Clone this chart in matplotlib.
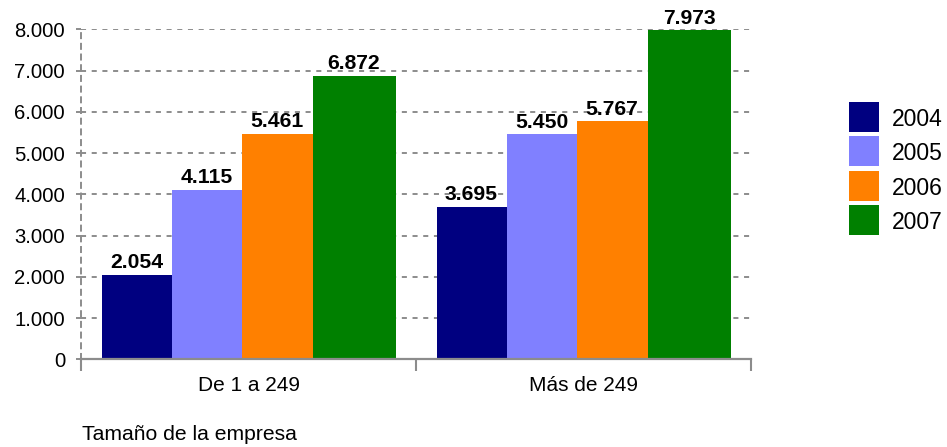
import matplotlib
matplotlib.use("Agg")
import matplotlib.pyplot as plt
import numpy as np
from matplotlib.ticker import FuncFormatter, FixedLocator
from matplotlib.patches import Rectangle

plt.rcParams['font.family'] = ['Liberation Sans', 'DejaVu Sans']

categories = ["De 1 a 249", "Más de 249"]
years = ["2004", "2005", "2006", "2007"]
v2004 = [2054, 3695]
v2005 = [4115, 5450]
v2006 = [5461, 5767]
v2007 = [6872, 7973]
series = [v2004, v2005, v2006, v2007]
colors = ["#000080", "#8080ff", "#ff8000", "#008000"]
yticks = [0, 1000, 2000, 3000, 4000, 5000, 6000, 7000, 8000]
xlabel = "Tamaño de la empresa"

W, H = 947, 447
fig = plt.figure(figsize=(W / 100, H / 100), dpi=100)
ax_l, ax_r, ax_b, ax_t = 81, 751, 359.3, 29.3
ax = fig.add_axes([ax_l / W, 1 - ax_b / H, (ax_r - ax_l) / W, (ax_b - ax_t) / H])

cat_px = (ax_r - ax_l) / len(categories)
bar_px = [70, 70, 71, 83]
left_margin_px = 20.5
widths = [b / cat_px for b in bar_px]
x = np.arange(len(categories))
grey = "#8c8c8c"
dash = (0, (2.6, 2.9))

offs = []
acc = left_margin_px / cat_px - 0.5
for w in widths:
    offs.append(acc)
    acc += w

for i, (vals, col) in enumerate(zip(series, colors)):
    bars = ax.bar(x + offs[i], vals, width=widths[i], align='edge', color=col,
                  label=years[i], zorder=3, linewidth=0)
    for b, v in zip(bars, vals):
        ax.annotate(f"{v:,}".replace(",", "."),
                    (b.get_x() + b.get_width() / 2, v),
                    xytext=(0, 2), textcoords='offset points',
                    ha='center', va='bottom', fontsize=15.2, fontweight='bold',
                    color='black', zorder=5, annotation_clip=False)

ax.set_xlim(-0.5, len(categories) - 0.5)
ax.set_ylim(0, 8000)
ax.set_yticks(yticks)
ax.yaxis.set_major_formatter(FuncFormatter(lambda v, p: f"{int(v):,}".replace(",", ".")))
ax.set_xticks(x)
ax.set_xticklabels(categories)
ax.xaxis.set_minor_locator(FixedLocator(np.arange(len(categories) + 1) - 0.5))
ax.tick_params(axis='x', which='major', length=0, labelsize=15, pad=12)
ax.tick_params(axis='x', which='minor', length=8.5, width=1.5, color=grey, direction='out')
ax.tick_params(axis='y', length=3.5, width=1.4, color=grey, labelsize=14.6, pad=8)

ax.yaxis.grid(True, color=grey, linewidth=1.4, linestyle=dash, zorder=1)
ax.set_axisbelow(True)
for s in ['top', 'right']:
    ax.spines[s].set_visible(False)
ax.spines['left'].set_color(grey)
ax.spines['left'].set_linewidth(1.4)
ax.spines['left'].set_linestyle(dash)
ax.spines['bottom'].set_color(grey)
ax.spines['bottom'].set_linewidth(1.6)
ax.spines['bottom'].set_zorder(4)

fig.text(82 / W, 1 - 440 / H, xlabel, fontsize=15.2, ha='left', va='baseline')

# legend drawn in figure pixel coordinates
leg_x, leg_y0, leg_sz, leg_step = 849, 101.7, 30, 34.5
for i, (yr, col) in enumerate(zip(years, colors)):
    top = leg_y0 + i * leg_step
    fig.patches.append(Rectangle((leg_x / W, 1 - (top + leg_sz) / H), leg_sz / W, leg_sz / H,
                                 transform=fig.transFigure, facecolor=col, edgecolor='none'))
    fig.text(892 / W, 1 - (top + leg_sz / 2) / H, yr, fontsize=16.5,
             ha='left', va='center_baseline')

fig.savefig("out.png", dpi=100)
